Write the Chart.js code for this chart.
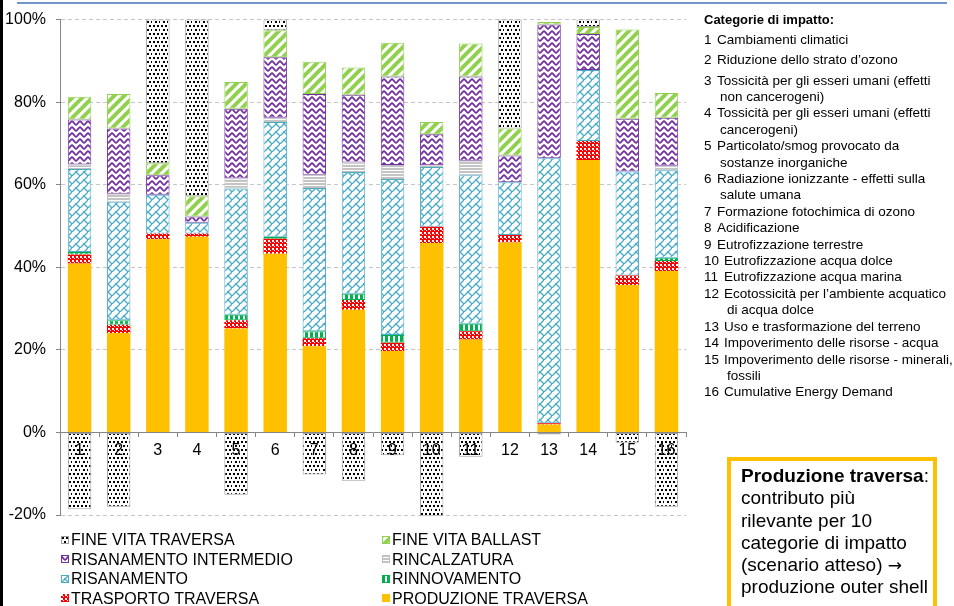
<!DOCTYPE html>
<html>
<head>
<meta charset="utf-8">
<script src="https://cdn.jsdelivr.net/npm/chart.js@4/dist/chart.umd.min.js"></script>
<style>
  html, body { margin: 0; padding: 0; background: #fff; }
  body { width: 954px; height: 606px; overflow: hidden; position: relative;
         font-family: "Liberation Sans", Arial, sans-serif; color: #000; }
  #chart { position: absolute; left: 0; top: 0; }
  .edge-left { position: absolute; left: 0; top: 0; width: 3px; height: 606px; background: #000; }
  .rule-top { position: absolute; left: 17px; top: 2px; width: 930px; height: 2px; background: #7294C6; }
  #cats { position: absolute; left: 704px; top: 11.8px; font-size: 13.5px; line-height: 16.4px; white-space: nowrap; }
  #cats .title { font-weight: bold; font-size: 13px; margin-bottom: 3.6px; }
  #cats .it { display: flex; }
  #cats .it.gap { margin-bottom: 4px; }
  #cats .n { flex: none; width: 13px; }
  #cats .n.wide { width: 20px; }
  #cats .t { white-space: pre; padding-left: 3px; text-indent: -3px; }
  #legend { position: absolute; left: 61px; top: 530.2px; display: grid;
            grid-template-columns: 321px 260px; font-size: 16px; line-height: 19.5px; white-space: nowrap; }
  #legend .li { display: flex; align-items: center; }
  #legend canvas { width: 8px; height: 8px; margin-right: 2px; flex: none; }
  #note { position: absolute; left: 727px; top: 457px; width: 192px; height: 170px;
          border: 4px solid #FFC000; padding: 4px 0 0 10px; box-sizing: content-box;
          font-size: 19px; line-height: 22.3px; white-space: nowrap; }
  #note b { font-weight: bold; }
  #note .arr { font-family: "DejaVu Sans", sans-serif; font-size: 17px; }
</style>
</head>
<body>
<canvas id="chart" width="954" height="606"></canvas>
<div class="edge-left"></div>
<div class="rule-top"></div>
<div id="cats"></div>
<div id="legend"></div>
<div id="note"><b>Produzione traversa</b>:<br>contributo più<br>rilevante per 10<br>categorie di impatto<br>(scenario atteso) <span class="arr">→</span><br>produzione outer shell</div>

<script>
// Impact categories (x axis) and their descriptions
const categories = ['1','2','3','4','5','6','7','8','9','10','11','12','13','14','15','16'];
const categoryNames = [
  'Cambiamenti climatici',
  'Riduzione dello strato d\u2019ozono',
  'Tossicità per gli esseri umani (effetti\nnon cancerogeni)',
  'Tossicità per gli esseri umani (effetti\ncancerogeni)',
  'Particolato/smog provocato da\nsostanze inorganiche',
  'Radiazione ionizzante - effetti sulla\nsalute umana',
  'Formazione fotochimica di ozono',
  'Acidificazione',
  'Eutrofizzazione terrestre',
  'Eutrofizzazione acqua dolce',
  'Eutrofizzazione acqua marina',
  'Ecotossicità per l\u2019ambiente acquatico\ndi acqua dolce',
  'Uso e trasformazione del terreno',
  'Impoverimento delle risorse - acqua',
  'Impoverimento delle risorse - minerali,\nfossili',
  'Cumulative Energy Demand'
];

// Percentage contribution of each life-cycle phase, per category
const produzioneTraversa    = [40.9, 24.1, 46.8, 47.4, 25.2, 43.3, 20.9, 29.7, 19.7, 45.9, 22.5, 46.0, 1.9, 66.0, 35.7, 39.1];
const trasportoTraversa     = [2.2, 2.0, 1.4, 0.8, 2.0, 3.6, 1.9, 2.4, 2.0, 3.9, 2.0, 1.8, 0.3, 4.6, 2.3, 2.4];
const rinnovamento          = [0.6, 1.1, 0, 0, 1.3, 0.5, 1.7, 1.5, 1.9, 0, 1.8, 0, 0, 0, 0, 0.8];
const risanamento           = [20.1, 28.7, 9.4, 2.6, 30.6, 27.8, 34.7, 29.5, 37.8, 14.5, 36.0, 12.8, 64.2, 17.2, 25.2, 21.2];
const rincalzatura          = [1.1, 1.9, 0, 0, 2.4, 1.0, 3.2, 2.3, 3.4, 0.4, 3.5, 0, 0, 0, 0, 1.1];
const risanamentoIntermedio = [10.9, 15.8, 4.7, 1.5, 16.9, 14.7, 19.6, 16.4, 21.4, 7.5, 20.4, 6.5, 32.4, 8.7, 12.8, 11.6];
const fineVitaBallast       = [5.5, 8.4, 2.9, 4.9, 6.5, 6.5, 7.8, 6.6, 8.2, 3.0, 8.0, 6.5, 0.6, 1.7, 21.6, 6.0];
const fineVitaTraversa      = [-18.6, -18.0, 34.8, 42.8, -15.1, 2.6, -10.2, -11.7, -5.5, -20.3, -5.9, 26.4, -0.5, 1.8, -2.5, -18.0];

// Y axis tick values
const yTicks = [-20, 0, 20, 40, 60, 80, 100];

const FONT = '"Liberation Sans", Arial, sans-serif';

// ---- fill patterns ----
function tile(w, h, paint) {
  const c = document.createElement('canvas');
  c.width = w; c.height = h;
  const g = c.getContext('2d');
  g.fillStyle = '#fff';
  g.fillRect(0, 0, w, h);
  paint(g, w, h);
  return g.createPattern(c, 'repeat');
}
const patDots = tile(8, 8, g => {
  g.fillStyle = '#000';
  [[1, 1], [5, 1], [3, 5], [7, 5]].forEach(([x, y]) => g.fillRect(x, y, 2, 2));
});
const patBallast = tile(10, 10, g => {
  g.strokeStyle = '#92D050'; g.lineWidth = 4;
  [[-10, 10, 10, -10], [0, 10, 10, 0], [0, 20, 20, 0]].forEach(([a, b, c, d]) => {
    g.beginPath(); g.moveTo(a, b); g.lineTo(c, d); g.stroke();
  });
});
const patWave = tile(8, 6, g => {
  g.strokeStyle = '#7030A0'; g.lineWidth = 1.8;
  g.beginPath();
  for (let x = -1; x <= 9; x += 0.5) {
    const y = 3 - 1.7 * Math.cos(2 * Math.PI * x / 8);
    x === -1 ? g.moveTo(x, y) : g.lineTo(x, y);
  }
  g.stroke();
});
const patGrey = tile(4, 3, g => { g.fillStyle = '#C4C4C4'; g.fillRect(0, 0, 4, 2); });
const patBrick = tile(8, 8, g => {
  g.strokeStyle = '#4BACC6'; g.lineWidth = 1.3;
  g.beginPath(); g.moveTo(-1, 9); g.lineTo(9, -1); g.stroke();
  g.beginPath(); g.moveTo(4, 4); g.lineTo(9, 9); g.stroke();
  g.fillStyle = '#4BACC6'; g.fillRect(3, 3, 2, 2);
});
const patStripes = tile(5, 4, g => { g.fillStyle = '#00B050'; g.fillRect(0, 0, 3, 4); });
const patChecker = tile(4, 4, g => {
  g.fillStyle = '#FF0000'; g.fillRect(0, 0, 4, 4);
  g.fillStyle = '#fff'; g.fillRect(0, 0, 2, 2); g.fillRect(2, 2, 1, 1);
});

function series(label, data, fill, border) {
  return { label, data, backgroundColor: fill, borderColor: border,
           borderWidth: border ? 1 : 0, borderSkipped: false };
}

// stacked bottom -> top
const datasets = [
  series('PRODUZIONE TRAVERSA', produzioneTraversa, '#FFC000', null),
  series('TRASPORTO TRAVERSA', trasportoTraversa, patChecker, null),
  series('RINNOVAMENTO', rinnovamento, patStripes, '#00B050'),
  series('RISANAMENTO', risanamento, patBrick, '#4BACC6'),
  series('RINCALZATURA', rincalzatura, patGrey, '#BFBFBF'),
  series('RISANAMENTO INTERMEDIO', risanamentoIntermedio, patWave, '#7030A0'),
  series('FINE VITA BALLAST', fineVitaBallast, patBallast, '#92D050'),
  Object.assign(series('FINE VITA TRAVERSA', fineVitaTraversa, patDots, '#A0A0A0'), { clip: 3 })
];

const chart = new Chart(document.getElementById('chart'), {
  type: 'bar',
  data: { labels: categories, datasets },
  options: {
    responsive: false,
    animation: false,
    events: [],
    layout: { padding: { left: 0, top: 16, right: 268, bottom: 91 } },
    datasets: { bar: { categoryPercentage: 0.6, barPercentage: 1 } },
    plugins: { legend: { display: false }, tooltip: { enabled: false } },
    scales: {
      x: {
        stacked: true,
        position: { y: 0 },
        grid: { display: true, drawOnChartArea: false, drawTicks: true, tickLength: 4,
                offset: true, color: '#868686', tickColor: '#868686', z: 1 },
        border: { display: true, color: '#868686', width: 1, z: 1 },
        ticks: { color: '#000', font: { family: FONT, size: 16 }, padding: 5,
                 autoSkip: false, maxRotation: 0, z: 2 }
      },
      y: {
        stacked: true,
        min: yTicks[0],
        max: yTicks[yTicks.length - 1],
        afterFit: s => { s.width = 60; },
        afterBuildTicks: s => { s.ticks = yTicks.map(v => ({ value: v })); },
        ticks: { color: '#000', font: { family: FONT, size: 16 }, padding: 10,
                 callback: v => v + '%' },
        grid: { color: '#C6C6C6', lineWidth: 1, drawTicks: true, tickLength: 4, tickColor: '#868686' },
        border: { display: true, color: '#868686', width: 1, dash: [4, 3] }
      }
    }
  }
});

// Legend: two columns, top of the stack first
const legend = document.getElementById('legend');
chart.data.datasets.slice().reverse().forEach(ds => {
  const item = document.createElement('div');
  item.className = 'li';
  const sw = document.createElement('canvas');
  sw.width = 8; sw.height = 8;
  const g = sw.getContext('2d');
  g.fillStyle = ds.backgroundColor;
  g.fillRect(0, 0, 8, 8);
  if (ds.borderColor) { g.strokeStyle = ds.borderColor; g.lineWidth = 1; g.strokeRect(0.5, 0.5, 7, 7); }
  const tx = document.createElement('span');
  tx.textContent = ds.label;
  item.appendChild(sw); item.appendChild(tx);
  legend.appendChild(item);
});

// Category descriptions
const cats = document.getElementById('cats');
const title = document.createElement('div');
title.className = 'title';
title.textContent = 'Categorie di impatto:';
cats.appendChild(title);
categoryNames.forEach((name, i) => {
  const row = document.createElement('div');
  row.className = 'it' + (i < 2 ? ' gap' : '');
  const n = document.createElement('span');
  n.className = 'n' + (categories[i].length > 1 ? ' wide' : '');
  n.textContent = categories[i];
  const t = document.createElement('span');
  t.className = 't';
  t.textContent = name;
  row.appendChild(n); row.appendChild(t);
  cats.appendChild(row);
});
</script>
</body>
</html>
